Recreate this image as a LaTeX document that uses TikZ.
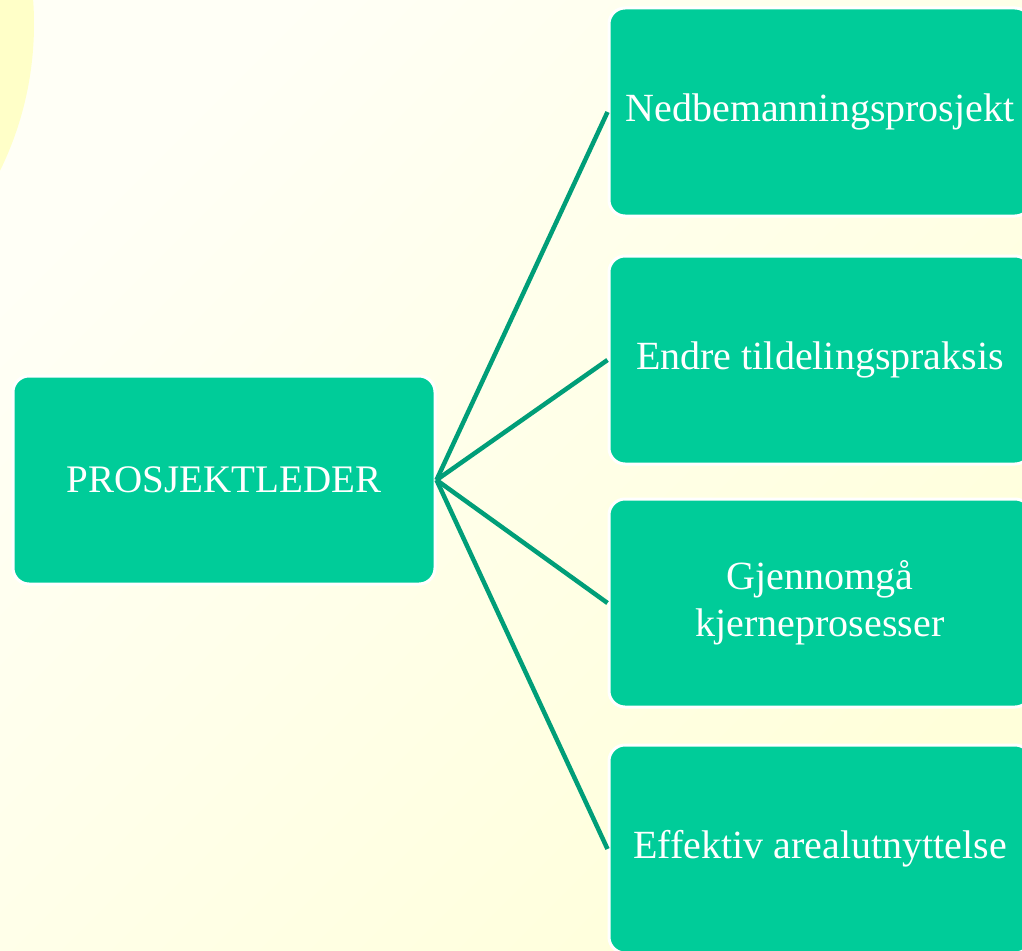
\documentclass[tikz,border=0pt]{standalone}
\usepackage{fontspec}
\setmainfont{Liberation Serif}
\definecolor{boxfill}{HTML}{00CC99}
\definecolor{linkc}{HTML}{009E78}
\definecolor{bgA}{HTML}{FFFFF6}
\definecolor{bgB}{HTML}{FFFFDA}
\definecolor{sun}{HTML}{FFFFC8}
\begin{document}
\begin{tikzpicture}[x=1pt,y=-1pt,
  box/.style={draw=white, line width=3pt, fill=boxfill, rounded corners=16pt,
    minimum width=422pt, minimum height=208pt, text=white, align=center,
    inner sep=0pt, font=\fontsize{40}{47}\selectfont},
  rootbox/.style={box, font=\fontsize{39}{46}\selectfont},
  link/.style={draw=linkc, line width=4.5pt}]
\useasboundingbox (0,0) rectangle (1022,950);
\shade[top color=bgA, bottom color=bgB, shading angle=45] (0,0) rectangle (1022,950);
\fill[sun] (-299,24) circle[radius=333pt];
\node[rootbox] (root) at (224,480) {PROSJEKTLEDER};
\node[box] (n1) at (820,112) {Nedbemanningsprosjekt};
\node[box] (n2) at (820,360) {Endre tildelingspraksis};
\node[box] (n3) at (820,603) {Gjennomgå\\kjerneprosesser};
\node[box] (n4) at (820,849) {Effektiv arealutnyttelse};
\draw[link] (root.east) -- (n1.west);
\draw[link] (root.east) -- (n2.west);
\draw[link] (root.east) -- (n3.west);
\draw[link] (root.east) -- (n4.west);
\end{tikzpicture}
\end{document}
